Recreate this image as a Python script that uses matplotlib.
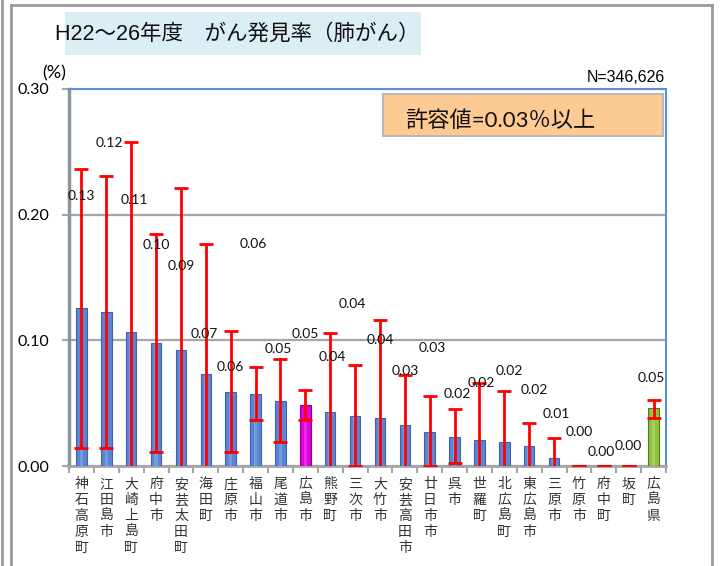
import matplotlib
matplotlib.use("Agg")
import matplotlib.pyplot as plt
from matplotlib.patches import Rectangle
from matplotlib.lines import Line2D
import numpy as np

plt.rcParams['font.family'] = ['Noto Sans CJK JP', 'DejaVu Sans']

# 市町別 肺がん発見率 (%) と信頼区間
areas = ["神石高原町", "江田島市", "大崎上島町", "府中市", "安芸太田町", "海田町",
         "庄原市", "福山市", "尾道市", "広島市", "熊野町", "三次市", "大竹市",
         "安芸高田市", "廿日市市", "呉市", "世羅町", "北広島町", "東広島市",
         "三原市", "竹原市", "府中町", "坂町", "広島県"]
rates = [0.126, 0.1225, 0.107, 0.098, 0.092, 0.073, 0.0586, 0.057, 0.052, 0.0483,
         0.043, 0.0398, 0.038, 0.0329, 0.027, 0.023, 0.0207, 0.0188, 0.0162,
         0.006, 0.0, 0.0, 0.0, 0.046]
ci_upper = [0.236, 0.231, 0.258, 0.185, 0.221, 0.1766, 0.1077, 0.0788, 0.0854,
            0.0605, 0.106, 0.0806, 0.116, 0.0727, 0.056, 0.0456, 0.0658, 0.060,
            0.0342, 0.0223, 0.0, 0.0, 0.0, 0.0523]
ci_lower = [0.0146, 0.0143, -0.01, 0.011, -0.01, -0.01, 0.011, 0.0364, 0.019,
            0.0366, -0.01, 0.0, -0.01, -0.01, 0.0, 0.002, -0.01, -0.01, -0.01,
            -0.01, 0.0, 0.0, 0.0, 0.038]

# データラベルの表示位置
label_y = [0.2146, 0.2567, 0.212, 0.1758, 0.1594, 0.105, 0.079, 0.1764, 0.0933,
           0.105, 0.087, 0.1286, 0.100, 0.0758, 0.094, 0.057, 0.0658, 0.0756,
           0.0605, 0.041, 0.0268, 0.011, 0.016, 0.070]
label_dx = [0, 0.12, 0.11, 0, 0, -0.07, 0, -0.08, -0.09, 0, 0.1, -0.1, 0, 0, 0.1,
            0.1, 0.08, 0.22, 0.2, 0.1, 0, -0.1, 0, -0.08]

W, H = 723, 566
fig = plt.figure(figsize=(W / 100, H / 100), dpi=100)
fig.patch.set_facecolor("white")


def fx(px):
    return px / W


def fy(py):
    return 1 - py / H


# 外枠
for xs, ys in [([11, 11], [5, 570]), ([11, 712], [5, 5]), ([712, 712], [5, 570]),
               ([2, 2], [0, 570])]:
    fig.add_artist(Line2D([fx(v) for v in xs], [fy(v) for v in ys],
                          color="#9a9a9a", lw=2))

ax = fig.add_axes([fx(69), fy(466), fx(666) - fx(69), fy(89) - fy(466)])

x = np.arange(len(areas))
colors = ["#5a84d6"] * len(areas)
colors[areas.index("広島市")] = "#e000e0"
colors[areas.index("広島県")] = "#8cc43c"
edges = ["#3b63b0"] * len(areas)
edges[areas.index("広島市")] = "#8a008a"
edges[areas.index("広島県")] = "#4f7a1e"

ax.bar(x, rates, width=0.42, color=colors, edgecolor=edges, linewidth=0.8, zorder=3)
# 棒の中央のハイライト
ax.bar(x, rates, width=0.14, color="white", alpha=0.18, linewidth=0, zorder=3.5)

r = np.array(rates)
lo = np.array(ci_lower)
hi = np.array(ci_upper)
ax.errorbar(x, r, yerr=[r - lo, hi - r], fmt="none", ecolor="#ff0000",
            elinewidth=2, capsize=5, capthick=2, zorder=4)

for i, v in enumerate(rates):
    ax.text(x[i] + label_dx[i], label_y[i], f"{v:.2f}", ha="center", va="center",
            fontsize=10, family=["Lato", "DejaVu Sans"], color="#111111", zorder=5)

ax.set_xlim(-0.5, len(areas) - 0.5)
ax.set_ylim(0, 0.30)
ax.set_yticks([0.0, 0.1, 0.2, 0.3])
ax.set_yticklabels([f"{t:.2f}" for t in [0.0, 0.1, 0.2, 0.3]],
                   family=["Lato", "DejaVu Sans"], fontsize=11.5)
ax.yaxis.grid(True, color="#a6a6a6", lw=1.6, zorder=0)
ax.tick_params(axis="y", length=5, width=1.5, color="#a6a6a6", pad=9)

ax.set_xticks(x)
ax.set_xticklabels(["\n".join(a) for a in areas], fontsize=10, color="#333333",
                   va="top", linespacing=1.18)
ax.tick_params(axis="x", length=0, pad=8)
ax.set_xticks(np.arange(-0.5, len(areas)), minor=True)
ax.tick_params(axis="x", which="minor", length=5, width=1.5, color="#a6a6a6")

for side in ["top", "right"]:
    ax.spines[side].set_color("#5b8fd6")
    ax.spines[side].set_linewidth(1.5)
ax.spines["left"].set_color("#8c959c")
ax.spines["left"].set_linewidth(2.5)
ax.spines["bottom"].set_color("#a6a6a6")
ax.spines["bottom"].set_linewidth(2)

# タイトル
fig.add_artist(Rectangle((fx(65), fy(55)), fx(421) - fx(65), fy(12) - fy(55),
                         facecolor="#dbeef3", edgecolor="none"))
fig.text(fx(237), fy(34), "H22～26年度　がん発見率（肺がん）", ha="center", va="center",
         fontsize=15.5, color="#111111",
         family=["Liberation Sans", "Noto Sans CJK JP"])

fig.text(fx(42), fy(73), "(%)", ha="left", va="center", fontsize=13,
         family=["Lato", "DejaVu Sans"])
fig.text(fx(665), fy(77), "N=346,626", ha="right", va="center", fontsize=11.5,
         family=["Liberation Sans", "DejaVu Sans"])

# 許容値ボックス
fig.add_artist(Rectangle((fx(383), fy(136)), fx(663) - fx(383), fy(94) - fy(136),
                         facecolor="#fdca93", edgecolor="#b8b8b8", lw=1.5))
fig.text(fx(405), fy(121), "許容値=0.03％以上", ha="left", va="center", fontsize=16,
         color="#111111", family=["Lato", "Noto Sans CJK JP"])

fig.savefig("out.png", dpi=100)
